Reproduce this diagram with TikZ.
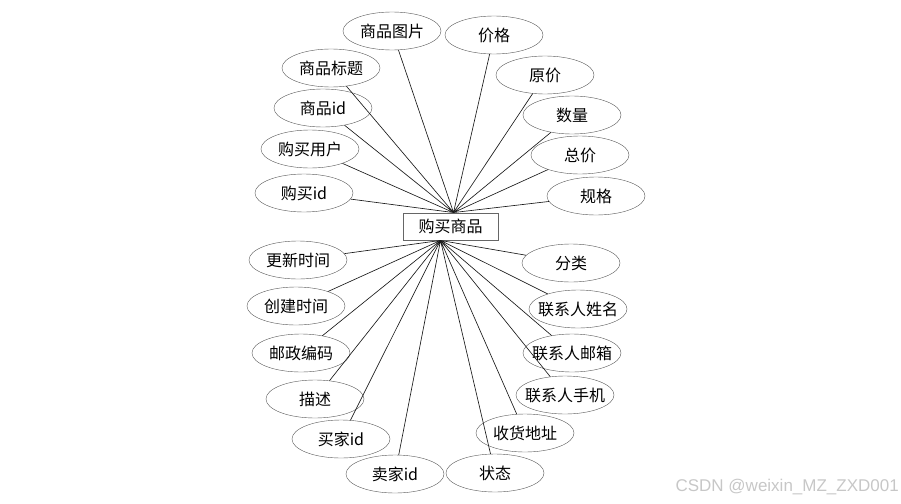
\documentclass[tikz,border=0pt]{standalone}
\usepackage{fontspec}
\setmainfont{Liberation Sans}
\newfontfamily\cjk{Noto Sans CJK SC}
\usetikzlibrary{shapes.geometric,positioning}

\tikzset{
  attr/.style={ellipse,draw=black!65,fill=white,minimum width=98pt,minimum height=38pt,inner ysep=0pt,inner xsep=-10pt,font=\cjk\fontsize{16}{16}\selectfont},
  entity/.style={rectangle,draw=black!60,line width=0.9pt,fill=white,minimum width=95pt,minimum height=27pt,inner sep=0pt,font=\cjk\fontsize{16}{16}\selectfont},
  link/.style={draw=black!90,line width=0.65pt}
}

\begin{document}
\begin{tikzpicture}[x=1pt,y=-1pt]
  \useasboundingbox (0,0) rectangle (901,503);

  % entity
  \node[entity] (buy) at (450.5,226.5) {购买商品};
  \coordinate (up) at ([xshift=3pt]buy.north);
  \coordinate (down) at ([xshift=-10pt]buy.south);

  % upper attributes
  \node[attr] (pic)   at (392,31)  {商品图片};
  \node[attr] (price) at (494,35)  {价格};
  \node[attr] (title) at (331,68)  {商品标题};
  \node[attr] (orig)  at (545,75)  {原价};
  \node[attr] (gid)   at (323,108) {商品id};
  \node[attr] (num)   at (572,115) {数量};
  \node[attr] (user)  at (310,149) {购买用户};
  \node[attr] (total) at (580,155) {总价};
  \node[attr] (bid)   at (304,193) {购买id};
  \node[attr] (spec)  at (596,196) {规格};

  % lower attributes
  \node[attr] (upd)   at (298,260) {更新时间};
  \node[attr] (cat)   at (571,263) {分类};
  \node[attr] (crt)   at (296,306) {创建时间};
  \node[attr] (cname) at (578,309) {联系人姓名};
  \node[attr] (zip)   at (301,353) {邮政编码};
  \node[attr] (cmail) at (572,353) {联系人邮箱};
  \node[attr] (desc)  at (315,399) {描述};
  \node[attr] (cphone) at (565,395) {联系人手机};
  \node[attr] (buyer) at (341,439) {买家id};
  \node[attr] (addr)  at (525,433) {收货地址};
  \node[attr] (seller) at (395,474) {卖家id};
  \node[attr] (state) at (495,473) {状态};

  \draw[link] (pic)--(up) (price)--(up) (title)--(up) (orig)--(up) (gid)--(up);
  \draw[link] (num)--(up) (user)--(up) (total)--(up) (bid)--(up) (spec)--(up);

  \draw[link] (upd)--(down) (cat)--(down) (crt)--(down) (cname)--(down);
  \draw[link] (zip)--(down) (cmail)--(down) (desc)--(down) (cphone)--(down);
  \draw[link] (buyer)--(down) (addr)--(down) (seller)--(down) (state)--(down);

  \node[anchor=east,text=black!22,font=\fontsize{17}{17}\selectfont,inner sep=0pt] (mark) at (899,487) {CSDN @weixin\_MZ\_ZXD001};
\end{tikzpicture}
\end{document}
